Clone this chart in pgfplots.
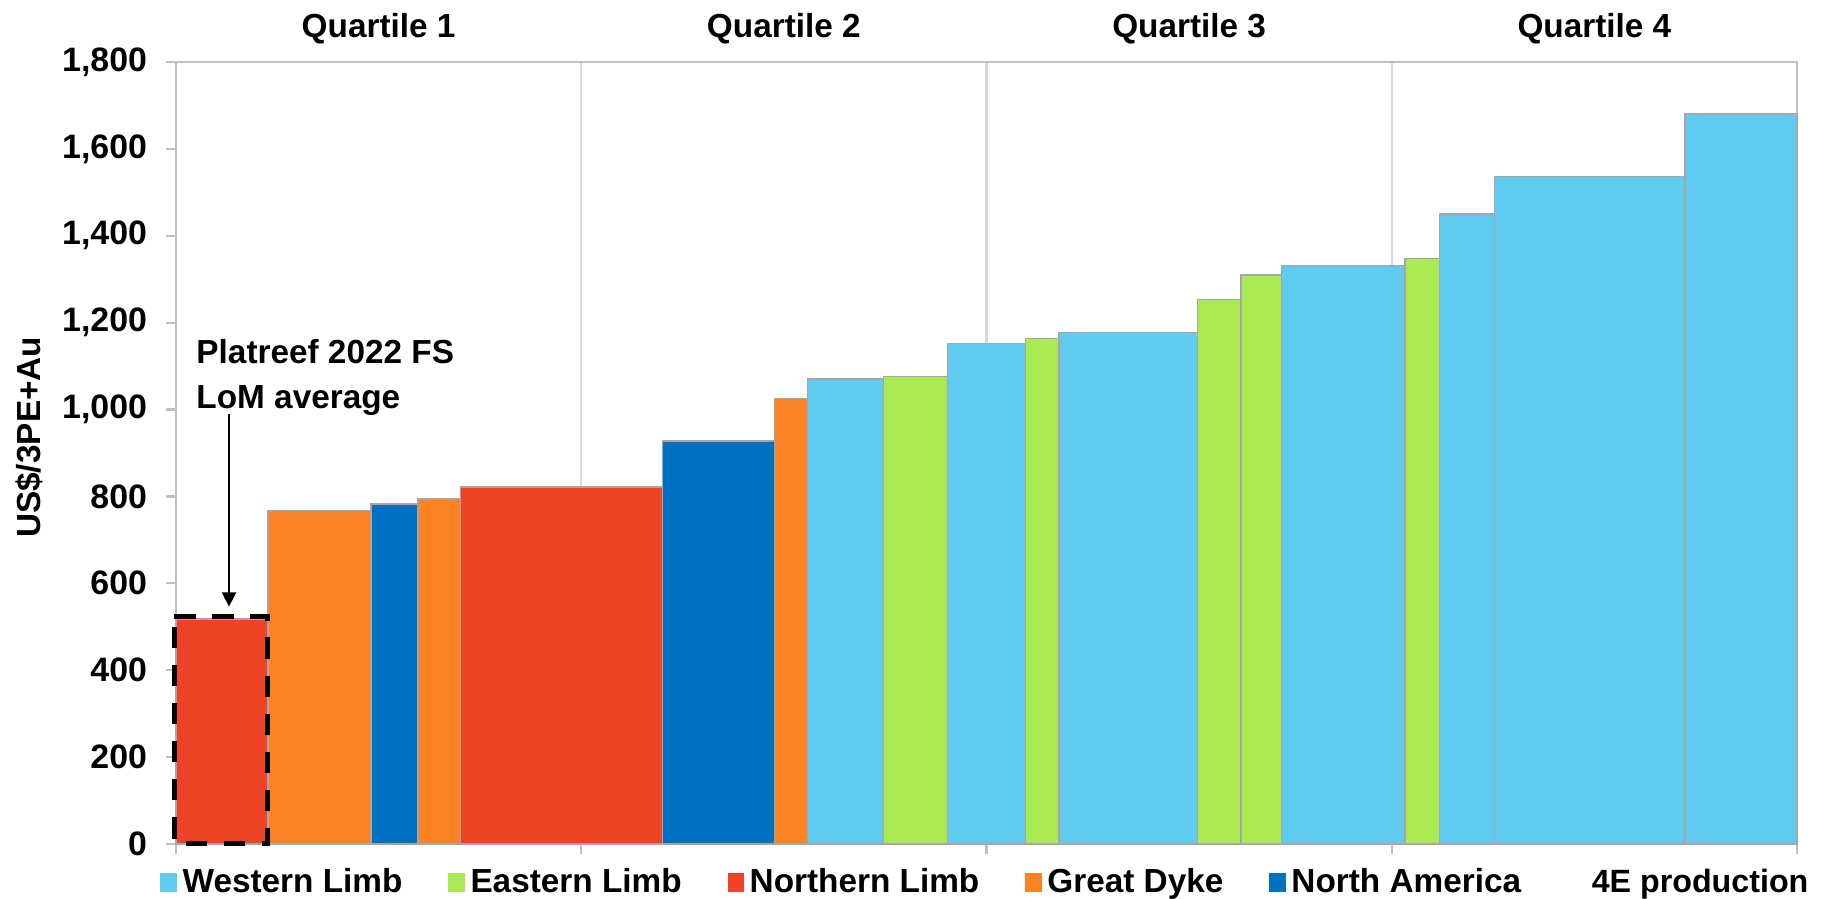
\documentclass[border=0pt]{standalone}
\usepackage{fontspec}
\setmainfont{Liberation Sans}
\usepackage{pgfplots}
\pgfplotsset{compat=1.18}
\usetikzlibrary{arrows.meta}
\definecolor{wl}{HTML}{5FCBF1}
\definecolor{el}{HTML}{A9EA52}
\definecolor{nl}{HTML}{EF4326}
\definecolor{gd}{HTML}{FD8223}
\definecolor{na}{HTML}{0070C0}
\definecolor{edge}{HTML}{A6A6A6}
\definecolor{axisgray}{HTML}{BFBFBF}
\definecolor{gridgray}{HTML}{D9D9D9}
\newcommand{\cbar}[4]{\addplot[fill=#1, draw=edge, line width=0.5pt, forget plot] coordinates {(#2,0) (#2,#4) (#3,#4) (#3,0)} \closedcycle;}
\begin{document}
\bfseries
\begin{tikzpicture}
\path[use as bounding box] (-63.36pt,-19.8pt) rectangle (595.44pt,303.84pt);
\begin{axis}[
  scale only axis, width=583.56pt, height=281.52pt,
  xmin=0, xmax=100, ymin=0, ymax=1800,
  clip=false,
  axis line style={axisgray, line width=0.8pt},
  xtick={0,25,50,75,100}, xticklabels={},
  ytick={0,200,...,1800},
  tick align=outside, major tick length=3.6pt,
  tick style={axisgray, line width=0.8pt},
  xtick pos=lower, ytick pos=left,
  xmajorgrids, grid style={gridgray, line width=0.8pt},
  yticklabel style={font=\bfseries\fontsize{12.2}{14}\selectfont, xshift=-3.3pt},
  /pgf/number format/1000 sep={,},
  /pgf/number format/assume math mode=true,
  legend style={draw=none, fill=none, at={(axis description cs:0,0)}, anchor=west,
    xshift=-5.8pt, yshift=-13.9pt, legend columns=-1,
    font=\bfseries\fontsize{12}{14}\selectfont,
    /tikz/every even column/.append style={column sep=14.5pt}, inner sep=0pt},
  legend image code/.code={\fill[#1, draw=none] (0pt,-3.4pt) rectangle (6pt,3.4pt);},
  ylabel={US\$/3PE+Au},
  ylabel style={at={(axis description cs:-0.0907,0.52)}, anchor=center,
    font=\bfseries\fontsize{12}{14}\selectfont},
]
\cbar{nl}{0}{5.68}{518}
\cbar{gd}{5.68}{12.03}{768}
\cbar{na}{12.03}{14.93}{783}
\cbar{gd}{14.93}{17.55}{794}
\cbar{nl}{17.55}{30.02}{822}
\cbar{na}{30.02}{36.91}{928}
\cbar{gd}{36.91}{38.97}{1026}
\cbar{wl}{38.97}{43.66}{1070}
\cbar{el}{43.66}{47.58}{1076}
\cbar{wl}{47.58}{52.42}{1152}
\cbar{el}{52.42}{54.47}{1164}
\cbar{wl}{54.47}{63.03}{1177}
\cbar{el}{63.03}{65.70}{1253}
\cbar{el}{65.70}{68.19}{1310}
\cbar{wl}{68.19}{75.82}{1332}
\cbar{el}{75.82}{77.93}{1348}
\cbar{wl}{77.93}{81.33}{1450}
\cbar{wl}{81.33}{93.09}{1537}
\cbar{wl}{93.09}{100}{1680}
\addplot[black, line width=1.9pt, dash pattern=on 7.7pt off 6pt, forget plot]
  coordinates {(-0.1,524) (5.64,524) (5.64,0.7) (-0.1,0.7) (-0.1,524)};
\addlegendimage{fill=wl}
\addlegendimage{fill=el}
\addlegendimage{fill=nl}
\addlegendimage{fill=gd}
\addlegendimage{fill=na}
\legend{Western Limb, Eastern Limb, Northern Limb, Great Dyke, North America}
\draw[black, line width=0.8pt, -{Triangle[length=5.2pt,width=5pt]}] (axis cs:3.27,990) -- (axis cs:3.27,546);
\node[anchor=north west, inner sep=0pt, align=left, font=\bfseries\fontsize{12}{16.3}\selectfont] at (axis cs:1.23,1163) {Platreef 2022 FS\\LoM average};
\node[anchor=base, font=\bfseries\fontsize{12}{14}\selectfont, yshift=8.9pt] at (axis cs:12.5,1800) {Quartile 1};
\node[anchor=base, font=\bfseries\fontsize{12}{14}\selectfont, yshift=8.9pt] at (axis cs:37.5,1800) {Quartile 2};
\node[anchor=base, font=\bfseries\fontsize{12}{14}\selectfont, yshift=8.9pt] at (axis cs:62.5,1800) {Quartile 3};
\node[anchor=base, font=\bfseries\fontsize{12}{14}\selectfont, yshift=8.9pt] at (axis cs:87.5,1800) {Quartile 4};
\node[anchor=base east, inner sep=0pt, font=\bfseries\fontsize{11.6}{13}\selectfont, xshift=4.3pt, yshift=-17.5pt] at (rel axis cs:1,0) {4E production};
\end{axis}
\end{tikzpicture}
\end{document}
